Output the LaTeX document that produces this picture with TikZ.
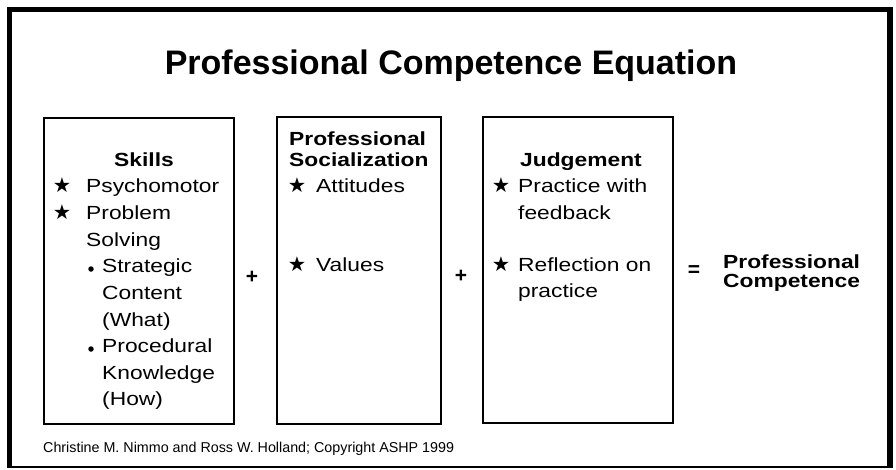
\documentclass[tikz,border=0pt]{standalone}
\usepackage{fontspec}
\setmainfont{Liberation Sans}
\newfontfamily\wideface[FakeStretch=1.2]{Liberation Sans}
\newfontfamily\symface{DejaVu Sans}
\begin{document}
\begin{tikzpicture}[x=1pt,y=-1pt,
  panel/.style={draw, line width=1.8pt, anchor=north west, inner sep=0pt},
  body/.style={font=\wideface\fontsize{19}{26}\selectfont, anchor=base west, inner sep=0pt},
  head/.style={font=\wideface\bfseries\fontsize{19}{21}\selectfont, inner sep=0pt},
  starmark/.style={font=\symface\fontsize{20.5}{22}\selectfont, anchor=base, inner sep=0pt},
  dotmark/.style={circle, fill, inner sep=0pt, minimum size=5.5pt},
  sign/.style={font=\bfseries\fontsize{21}{22}\selectfont, inner sep=0pt},
]
\useasboundingbox (0,0) rectangle (896,469);
\fill[white] (0,0) rectangle (896,469);

% outer frame: heavy left, top and right sides, light bottom rule
\draw[line width=5.5pt] (9.5,467) -- (9.5,9.5) -- (890,9.5) -- (890,467);
\draw[line width=1.5pt] (7,467) -- (893,467);

% title
\node[font=\bfseries\fontsize{34}{40}\selectfont, anchor=base, inner sep=0pt] (title) at (451,74) {Professional Competence Equation};

% the three terms
\node[panel, minimum width=190pt, minimum height=306pt] (skills) at (43,117) {};
\node[panel, minimum width=164pt, minimum height=307pt] (social) at (276,116) {};
\node[panel, minimum width=190pt, minimum height=306pt] (judge) at (482,116) {};

% Skills
\node[head, anchor=base] (skillsH) at (144,166) {Skills};
\node[starmark] (sk1s) at (62,192.6) {★};
\node[body] (sk1) at (86,192.6) {Psychomotor};
\node[starmark] (sk2s) at (62,219) {★};
\node[body] (sk2) at (86,219) {Problem};
\node[body] (sk2b) at (86,246) {Solving};
\node[dotmark] (sk3d) at (91,269) {};
\node[body] (sk3) at (102,272) {Strategic};
\node[body] (sk3b) at (102,299) {Content};
\node[body] (sk3c) at (102,326) {(What)};
\node[dotmark] (sk4d) at (91,349) {};
\node[body] (sk4) at (102,352) {Procedural};
\node[body] (sk4b) at (102,379) {Knowledge};
\node[body] (sk4c) at (102,405) {(How)};

% Professional Socialization
\node[head, anchor=base west] (socH1) at (289,145) {Professional};
\node[head, anchor=base west] (socH2) at (289,166) {Socialization};
\node[starmark] (so1s) at (297,192.6) {★};
\node[body] (so1) at (316,192.6) {Attitudes};
\node[starmark] (so2s) at (297,271) {★};
\node[body] (so2) at (316,271) {Values};

% Judgement
\node[head, anchor=base] (judH) at (581,166) {Judgement};
\node[starmark] (ju1s) at (501,192.6) {★};
\node[body] (ju1) at (518,192.6) {Practice with};
\node[body] (ju1b) at (518,219) {feedback};
\node[starmark] (ju2s) at (501,271) {★};
\node[body] (ju2) at (518,271) {Reflection on};
\node[body] (ju2b) at (518,297) {practice};

% operators and result
\node[sign] (plusA) at (252,277) {+};
\node[sign] (plusB) at (461,276) {+};
\node[sign] (equals) at (694,271) {=};
\node[head, anchor=base west] (res1) at (723,268) {Professional};
\node[head, anchor=base west] (res2) at (723,287) {Competence};

% credit line
\node[font=\fontsize{14.3}{16}\selectfont, anchor=base west, inner sep=0pt] (credit) at (43,452) {Christine M. Nimmo and Ross W. Holland; Copyright ASHP 1999};
\end{tikzpicture}
\end{document}
